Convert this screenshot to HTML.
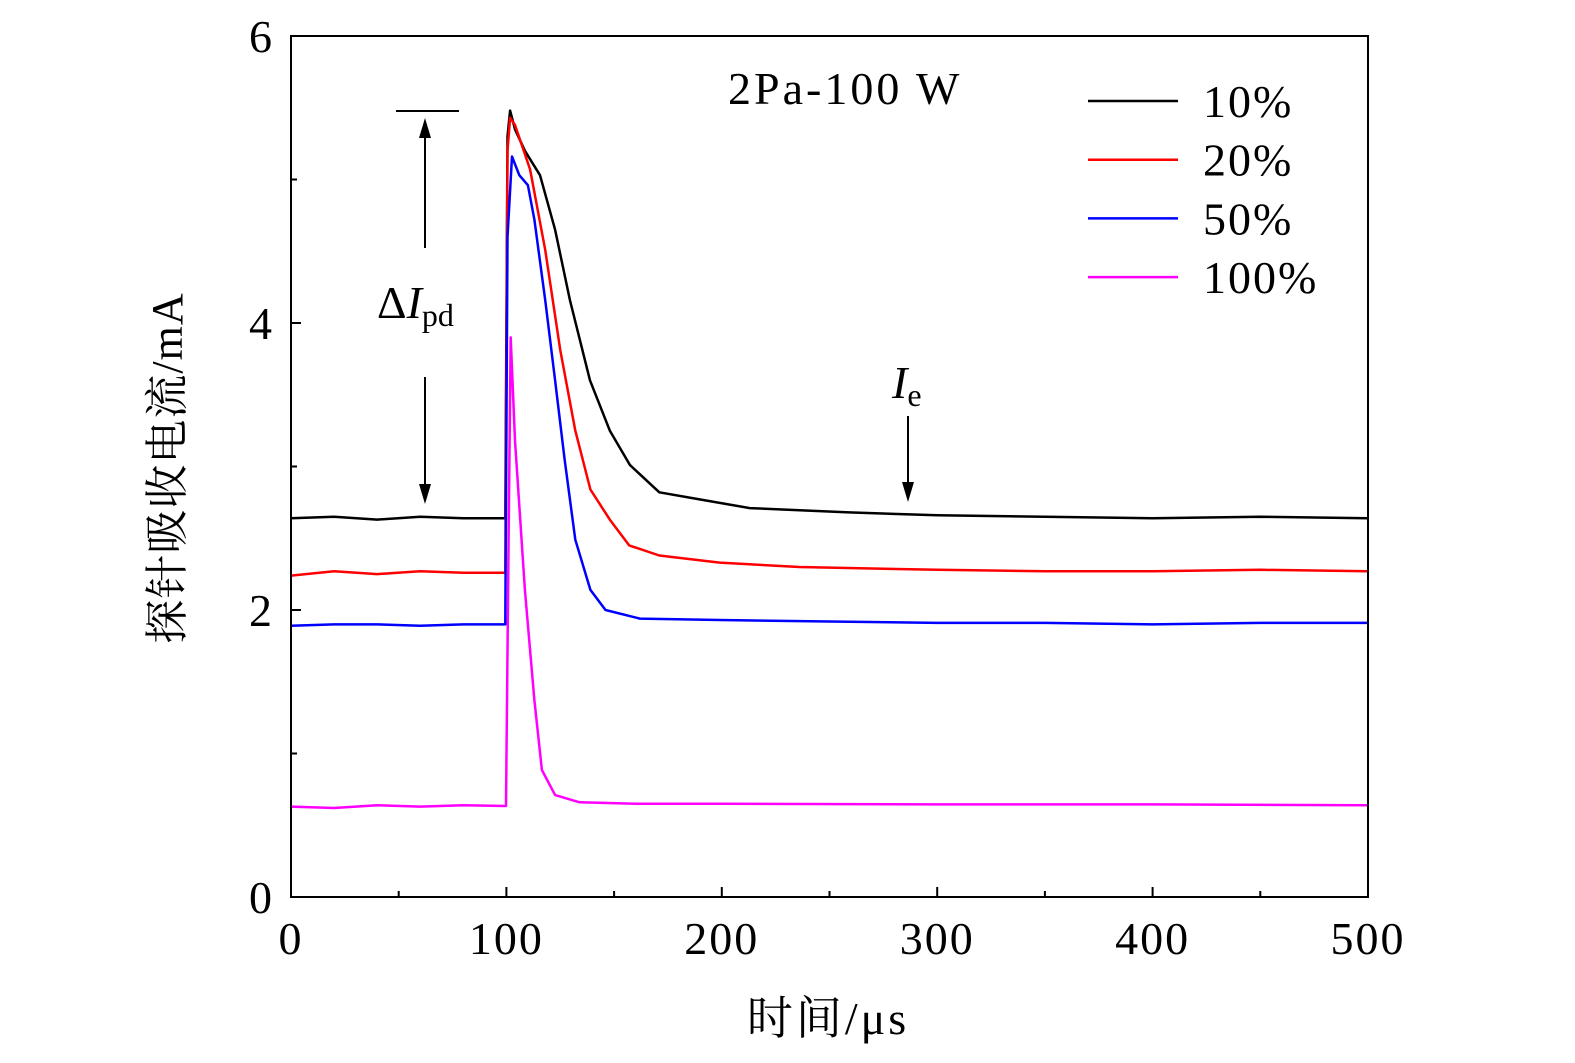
<!DOCTYPE html>
<html><head><meta charset="utf-8"><style>
body{margin:0;background:#fff}
svg{display:block}
text{font-family:"Liberation Serif","Noto Serif CJK SC",serif;fill:#000}
</style></head><body>
<svg id="chart" width="1575" height="1063" viewBox="0 0 1575 1063">
<g id="series"></g>
<rect x="291" y="36" width="1077" height="861" fill="none" stroke="#000" stroke-width="2"/>
<g id="axes"></g>
<text x="182" y="468" font-size="44" text-anchor="middle" letter-spacing="1" transform="rotate(-90 182 468)">探针吸收电流/mA</text>
<text x="828" y="1034" font-size="46" text-anchor="middle" letter-spacing="3">时间/μs</text>
<text x="728" y="104" font-size="46" letter-spacing="3">2Pa-100 W</text>
<g>
<line x1="396" y1="111" x2="459" y2="111" stroke="#000" stroke-width="2"/>
<line x1="425" y1="248" x2="425" y2="130" stroke="#000" stroke-width="2"/>
<polygon points="425,118 419,138 431,138" fill="#000"/>
<line x1="425" y1="377" x2="425" y2="490" stroke="#000" stroke-width="2"/>
<polygon points="425,504 419,484 431,484" fill="#000"/>
<text x="377" y="318" font-size="46">Δ<tspan font-style="italic">I</tspan><tspan font-size="32" dy="8">pd</tspan></text>
</g>
<g>
<text x="892" y="398" font-size="46" font-style="italic">I<tspan font-size="32" font-style="normal" dy="8">e</tspan></text>
<line x1="908" y1="416" x2="908" y2="488" stroke="#000" stroke-width="2"/>
<polygon points="908,502 902,482 914,482" fill="#000"/>
</g>
<g id="legend"></g>
</svg>
<script>
const xTicks=[0,100,200,300,400,500];
const yTicks=[0,2,4,6];
const seriesNames=["10%","20%","50%","100%"];
const seriesColors=["#000000","#ff0000","#0000ff","#ff00ff"];
const tBlack=[0,20,40,60,80,99.5,100.5,101.7,104,108.6,115.6,122.6,129.5,138.8,148,157.4,171,190,213,259,300,350,400,450,500];
const vBlack=[2.64,2.65,2.63,2.65,2.64,2.64,5.3,5.48,5.35,5.2,5.03,4.65,4.16,3.6,3.25,3.01,2.82,2.77,2.71,2.68,2.66,2.65,2.64,2.65,2.64];
const tRed=[0,20,40,60,80,99.5,100.5,101.7,104,111,118,125,132,139,148,157,171,199,236,300,350,400,450,500];
const vRed=[2.24,2.27,2.25,2.27,2.26,2.26,5.2,5.43,5.38,5.07,4.51,3.81,3.25,2.84,2.63,2.45,2.38,2.33,2.30,2.28,2.27,2.27,2.28,2.27];
const tBlue=[0,20,40,60,80,99.5,100.5,102.6,106,110,113,118,122.6,127,132,139,146,162,199,250,300,350,400,450,500];
const vBlue=[1.89,1.90,1.90,1.89,1.90,1.90,4.6,5.16,5.03,4.96,4.72,4.16,3.6,3.05,2.49,2.14,2.0,1.94,1.93,1.92,1.91,1.91,1.90,1.91,1.91];
const tMag=[0,20,40,60,80,99.8,101,102,104,108.6,113,116.5,122.6,134,160,200,300,400,500];
const vMag=[0.63,0.62,0.64,0.63,0.64,0.634,2.5,3.9,3.18,2.14,1.37,0.885,0.71,0.66,0.65,0.65,0.645,0.645,0.64];
const seriesT=[tBlack,tRed,tBlue,tMag];
const seriesV=[vBlack,vRed,vBlue,vMag];

const NS="http://www.w3.org/2000/svg";
const X0=291,X1=1368,Y0=897,Y1=36;
function xs(t){return X0+(t-0)/(500-0)*(X1-X0);}
function ys(v){return Y0-(v-0)/(6-0)*(Y0-Y1);}
function mk(tag,attrs,parent){const e=document.createElementNS(NS,tag);for(const k in attrs)e.setAttribute(k,attrs[k]);parent.appendChild(e);return e;}

const axes=document.getElementById('axes');
xTicks.forEach(function(t){
  const l=mk('line',{x1:xs(t),x2:xs(t),y1:Y0,y2:Y0-10,stroke:'#000','stroke-width':2},axes);
  
  
  const tx=mk('text',{x:xs(t),y:954,'font-size':46,'text-anchor':'middle','letter-spacing':2},axes);
  tx.textContent=t;
  
  
});
for(let i=0;i<xTicks.length-1;i++){
  const m=(xTicks[i]+xTicks[i+1])/2;
  const l=mk('line',{x1:xs(m),x2:xs(m),y1:Y0,y2:Y0-6,stroke:'#000','stroke-width':2},axes);
  
  
}
yTicks.forEach(function(v){
  const l=mk('line',{x1:X0,x2:X0+10,y1:ys(v),y2:ys(v),stroke:'#000','stroke-width':2},axes);
  
  
  const tx=mk('text',{x:272,y:ys(v)+16,'font-size':46,'text-anchor':'end'},axes);
  tx.textContent=v;
  
  
});
for(let i=0;i<yTicks.length-1;i++){
  const m=(yTicks[i]+yTicks[i+1])/2;
  const l=mk('line',{x1:X0,x2:X0+6,y1:ys(m),y2:ys(m),stroke:'#000','stroke-width':2},axes);
  
  
}

const sg=document.getElementById('series');
const lg=document.getElementById('legend');
seriesNames.forEach(function(n,i){
  const pts=seriesT[i].map(function(t,j){return xs(t).toFixed(1)+','+ys(seriesV[i][j]).toFixed(1);}).join(' ');
  const pl=mk('polyline',{points:pts,fill:'none',stroke:seriesColors[i],'stroke-width':2.5,'stroke-linejoin':'round'},sg);
  
  
  const y=101+i*58.7;
  const ll=mk('line',{x1:1088,x2:1178,y1:y,y2:y,stroke:seriesColors[i],'stroke-width':2.5},lg);
  
  
  const lt=mk('text',{x:1203,y:y+16,'font-size':46,'letter-spacing':2},lg);
  lt.textContent=n;
  
  
});
</script>
</body></html>
